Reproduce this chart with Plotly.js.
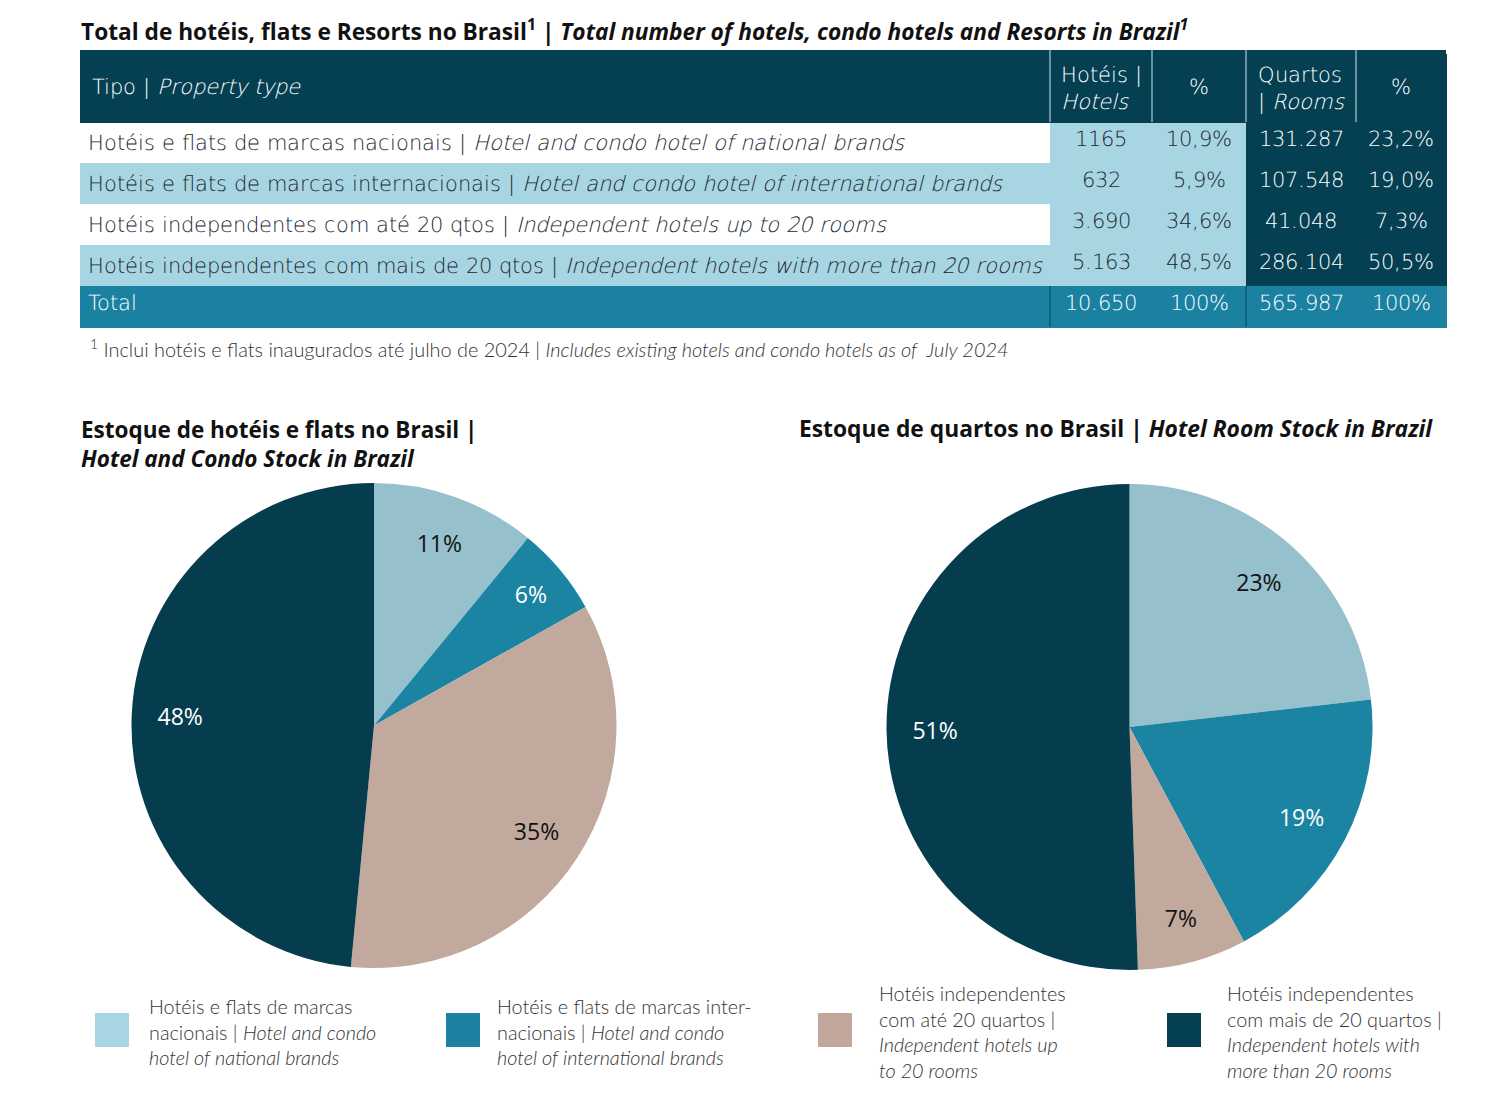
<!DOCTYPE html>
<html>
<head>
<meta charset="utf-8">
<script src="https://cdn.plot.ly/plotly-3.0.1.min.js"></script>
<style>
html,body{margin:0;padding:0;background:#fff;}
#chart{width:1508px;height:1114px;}
/* light face only: italics are synthesised from it */
@font-face{font-family:"DJXL";src:local("DejaVu Sans ExtraLight"),local("DejaVuSans-ExtraLight");font-weight:100 900;font-style:normal;}
</style>
</head>
<body>
<div id="chart"></div>
<script>
// ---- DATA ----
const typeLabels = [
  "Hotéis e flats de marcas nacionais | <i>Hotel and condo hotel of national brands</i>",
  "Hotéis e flats de marcas internacionais | <i>Hotel and condo hotel of international brands</i>",
  "Hotéis independentes com até 20 qtos | <i>Independent hotels up to 20 rooms</i>",
  "Hotéis independentes com mais de 20 qtos | <i>Independent hotels with more than 20 rooms</i>",
  "Total"
];
const hotels = [1165, 632, 3690, 5163];
const hotelsText = ["1165", "632", "3.690", "5.163", "10.650"];
const hotelsPctText = ["10,9%", "5,9%", "34,6%", "48,5%", "100%"];
const rooms = [131287, 107548, 41048, 286104];
const roomsText = ["131.287", "107.548", "41.048", "286.104", "565.987"];
const roomsPctText = ["23,2%", "19,0%", "7,3%", "50,5%", "100%"];
const headerLabels = ["Tipo | <i>Property type</i>", "Hotéis |<br><i>Hotels</i>", "%", "Quartos<br>| <i>Rooms</i>", "%"];
const pieCategories = ["Nacionais", "Internacionais", "Independentes até 20", "Independentes mais de 20"];
const legendLabels = [
  "Hotéis e flats de marcas<br>nacionais | <i>Hotel and condo</i><br><i>hotel of national brands</i>",
  "Hotéis e flats de marcas inter-<br>nacionais | <i>Hotel and condo</i><br><i>hotel of international brands</i>",
  "Hotéis independentes<br>com até 20 quartos |<br><i>Independent hotels up</i><br><i>to 20 rooms</i>",
  "Hotéis independentes<br>com mais de 20 quartos |<br><i>Independent hotels with</i><br><i>more than 20 rooms</i>"
];
const tableTitle = "Total de hotéis, flats e Resorts no Brasil<sup>1</sup> | <i>Total number of hotels, condo hotels and Resorts in Brazil<sup>1</sup></i>";
const footnote = "<sup>1</sup> Inclui hotéis e flats inaugurados até julho de 2024 | <i>Includes existing hotels and condo hotels as of  July 2024</i>";
const pieTitleLeft = "Estoque de hotéis e flats no Brasil |<br><i>Hotel and Condo Stock in Brazil</i>";
const pieTitleRight = "Estoque de quartos no Brasil | <i>Hotel Room Stock in Brazil</i>";

// ---- STYLE ----
const W = 1508, H = 1114;
const px = x => x / W;
const py = y => 1 - y / H;
const DARK = "#053f52", LIGHT = "#a8d5e2", MID = "#1b81a1", WHITE = "#ffffff";
const pieColors = ["#96c0cc", "#1b84a3", "#c2a99e", "#053d4f"];
const legendColors = ["#a8d5e2", "#1c82a2", "#c2a89c", "#053f52"];
const pieTextColors = ["#111111", "#ffffff", "#111111", "#ffffff"];
const TFONT = "DJXL, DejaVu Sans";
const TSIZE = 21.1;
const FONT = "Lato";
const HFONT = "Open Sans";
const TXT = "#1a2731";
const noWrap = s => s.replace(/ /g, "\u00a0");   // keep each row on one line

function draw() {
  const nRows = typeLabels.length;
  const colFill = [
    typeLabels.map((_, i) => i === nRows - 1 ? MID : (i % 2 === 1 ? LIGHT : WHITE)),
    typeLabels.map((_, i) => i === nRows - 1 ? MID : LIGHT),
    typeLabels.map((_, i) => i === nRows - 1 ? MID : LIGHT),
    typeLabels.map((_, i) => i === nRows - 1 ? MID : DARK),
    typeLabels.map((_, i) => i === nRows - 1 ? MID : DARK)
  ];
  const colFont = [
    typeLabels.map((_, i) => i === nRows - 1 ? WHITE : TXT),
    typeLabels.map((_, i) => i === nRows - 1 ? WHITE : TXT),
    typeLabels.map((_, i) => i === nRows - 1 ? WHITE : TXT),
    typeLabels.map(() => WHITE),
    typeLabels.map(() => WHITE)
  ];
  // single-line headers are drawn as centred annotations, two-line headers by the table
  const headerIsTwoLine = headerLabels.map(h => h.indexOf("<br>") >= 0);
  const colWidths = [970, 102, 94, 110, 90];
  const tableX0 = 80, tableX1 = 1446, headerTop = 50, headerShift = 4, headerH = 72, rowH = 41;
  const bodyTop = headerTop + headerH, tableBottom = bodyTop + rowH * nRows;

  const table = {
    type: "table",
    domain: {x: [px(tableX0), px(tableX1)],
             y: [py(tableBottom + 1), py(headerTop + headerShift)]},
    columnwidth: colWidths,
    header: {
      values: headerLabels.map((h, i) => headerIsTwoLine[i] ? h : ""),
      align: ["left", "center", "center", "center", "center"],
      height: headerH - headerShift,
      fill: {color: DARK},
      line: {color: DARK, width: 1},
      font: {family: TFONT, size: TSIZE, color: WHITE, weight: 200}
    },
    cells: {
      values: [typeLabels.map(noWrap), hotelsText, hotelsPctText, roomsText, roomsPctText],
      align: ["left", "center", "center", "center", "center"],
      height: rowH,
      fill: {color: colFill},
      line: {color: colFill, width: 1},
      font: {family: TFONT, size: TSIZE, color: colFont, weight: 200}
    }
  };

  function pieBase(values, domain) {
    return {
      type: "pie", values: values, labels: pieCategories, sort: false,
      direction: "clockwise", rotation: 0, domain: domain,
      marker: {colors: pieColors, line: {width: 0}},
      textinfo: "none", hoverinfo: "label+value+percent", showlegend: false
    };
  }
  function pieText(values, domain) {
    return {
      type: "pie", values: values, labels: pieCategories, sort: false,
      direction: "clockwise", rotation: 0, domain: domain, hole: 0.6,
      marker: {colors: pieColors.map(() => "rgba(0,0,0,0)"), line: {width: 0}},
      texttemplate: "%{percent:.0%}", textposition: "inside",
      insidetextorientation: "horizontal",
      textfont: {family: "Open Sans", size: 23, color: pieTextColors},
      hoverinfo: "skip", showlegend: false
    };
  }
  const domLeft = {x: [px(131), px(617)], y: [py(968), py(483)]};
  const domRight = {x: [px(886), px(1373)], y: [py(970), py(484)]};

  const annotations = [
    {text: tableTitle, x: px(79), y: py(30), xanchor: "left", yanchor: "middle",
     font: {family: HFONT, size: 22.7, color: "#111", weight: 700}},
    {text: footnote, x: px(88), y: py(348), xanchor: "left", yanchor: "middle",
     font: {family: FONT, size: 19.9, color: "#333", weight: 300}},
    {text: pieTitleLeft, x: px(79), y: py(444), xanchor: "left", yanchor: "middle", align: "left",
     font: {family: HFONT, size: 22.5, color: "#111", weight: 700}},
    {text: pieTitleRight, x: px(797), y: py(428), xanchor: "left", yanchor: "middle", align: "left",
     font: {family: HFONT, size: 22.8, color: "#111", weight: 700}}
  ];
  // column boundaries
  const colEdges = [tableX0];
  colWidths.forEach(w => colEdges.push(colEdges[colEdges.length - 1] + w));
  headerLabels.forEach((h, i) => {
    if (!headerIsTwoLine[i]) {
      const left = i === 0;
      annotations.push({text: h,
        x: px(left ? colEdges[i] + 10 : (colEdges[i] + colEdges[i + 1]) / 2),
        y: py(headerTop + headerH / 2 + 1),
        xanchor: left ? "left" : "center", yanchor: "middle",
        font: {family: TFONT, size: TSIZE, color: WHITE, weight: 200}});
    }
  });
  const shapes = [
    // strip above the shifted header keeps its full height
    {type: "rect", layer: "below", x0: px(tableX0), x1: px(tableX1),
     y0: py(headerTop + headerShift + 1), y1: py(headerTop), fillcolor: DARK, line: {width: 0}}
  ];
  // light separators in the header, dark ones in the total row
  colEdges.slice(1, -1).forEach(x => {
    shapes.push({type: "line", x0: px(x), x1: px(x), y0: py(headerTop), y1: py(bodyTop),
      line: {color: "#cfe4eb", width: 1}});
  });
  [colEdges[1], colEdges[3]].forEach(x => {
    shapes.push({type: "line", x0: px(x), x1: px(x), y0: py(tableBottom - rowH), y1: py(tableBottom),
      line: {color: "#0d4456", width: 1}});
  });
  const legendX = [95, 446, 818, 1167];
  const legendTextX = [147, 495, 877, 1225];
  legendLabels.forEach((lab, i) => {
    shapes.push({type: "rect",
      x0: px(legendX[i]), x1: px(legendX[i] + 34), y0: py(1047), y1: py(1013),
      fillcolor: legendColors[i], line: {width: 0}});
    annotations.push({text: lab, x: px(legendTextX[i]), y: py(1031), xanchor: "left", yanchor: "middle",
      align: "left", font: {family: FONT, size: 19.8, color: "#333", weight: 300}});
  });
  shapes.forEach(s => { s.xref = "paper"; s.yref = "paper"; });
  annotations.forEach(a => { a.xref = "paper"; a.yref = "paper"; a.showarrow = false; });

  const layout = {
    width: W, height: H,
    margin: {l: 0, r: 0, t: 0, b: 0},
    paper_bgcolor: "#fff",
    plot_bgcolor: "#fff",
    showlegend: false,
    annotations: annotations,
    shapes: shapes
  };
  Plotly.newPlot("chart", [table, pieBase(hotels, domLeft), pieText(hotels, domLeft),
    pieBase(rooms, domRight), pieText(rooms, domRight)], layout, {displayModeBar: false});
}
if (document.fonts && document.fonts.load) {
  document.fonts.load('200 20px DJXL').then(draw, draw);
} else {
  draw();
}
</script>
</body>
</html>
